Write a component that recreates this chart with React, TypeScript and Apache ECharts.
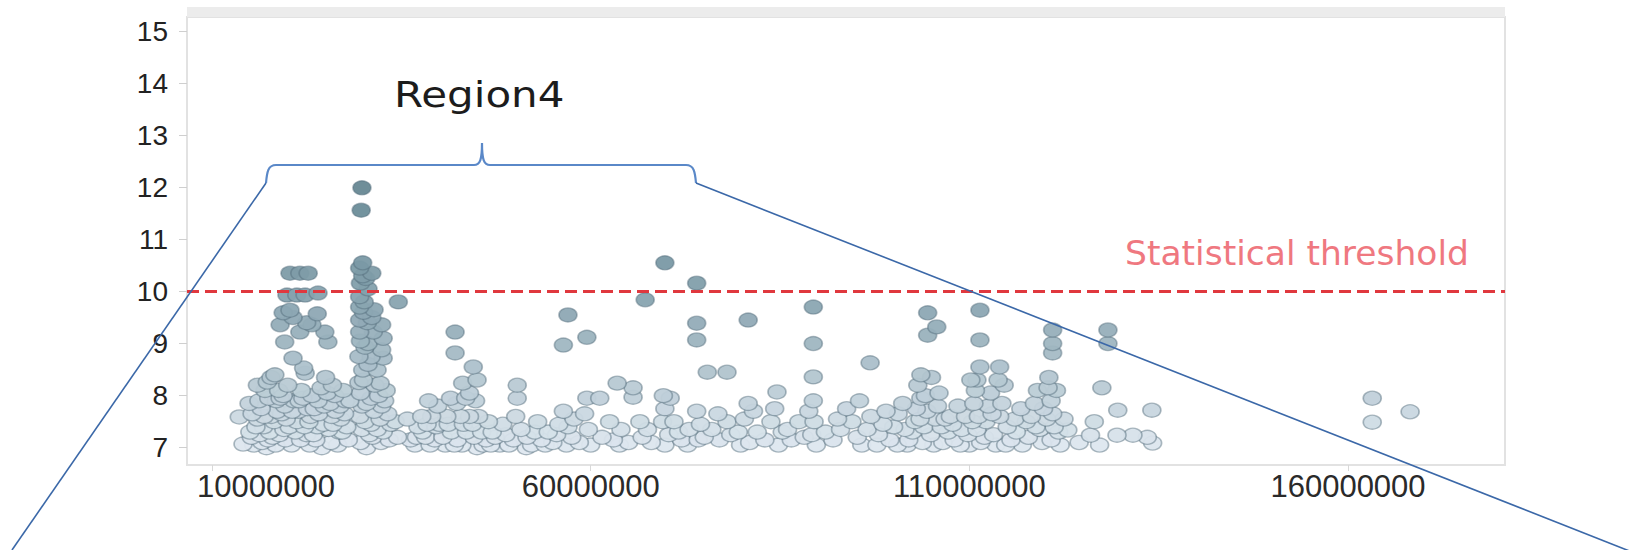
import React, { useEffect, useRef } from "react";
import * as echarts from "echarts";

// x in megabases, y = -log10(p)
const regionA: number[][] = [
  [13.6, 7.59], [14.1, 7.07],
  [20.3, 10.35], [21.6, 10.35], [22.7, 10.35],
  [19.9, 9.93], [21.2, 9.93], [22.3, 9.93], [24.0, 9.97],
  [20.3, 9.64], [19.4, 9.59], [20.7, 9.5], [23.9, 9.57], [19.0, 9.36], [22.5, 9.4], [23.2, 9.36],
  [21.6, 9.22], [24.9, 9.22], [25.3, 9.03], [19.6, 9.03], [20.7, 8.72], [22.1, 8.53], [22.3, 8.43],
  [17.3, 8.26], [17.0, 8.1], [18.3, 8.4], [17.5, 7.95], [16.2, 7.9], [16.5, 7.75], [16.0, 7.55],
  [16.8, 7.4], [16.3, 7.25], [16.6, 7.1], [17.2, 7.0], [18.0, 7.2], [18.2, 7.5], [18.6, 7.7],
  [18.5, 7.9], [19.4, 8.0], [19.6, 7.8], [19.8, 7.55], [19.5, 7.35], [19.7, 7.15], [20.5, 7.05],
  [21.0, 7.3], [21.2, 7.5], [21.4, 7.7], [20.8, 7.9], [22.0, 7.95], [22.6, 7.75], [22.8, 7.5],
  [22.5, 7.25], [22.9, 7.05], [23.7, 7.15], [23.9, 7.4], [24.1, 7.65], [24.0, 7.9], [24.4, 8.15],
  [25.0, 8.35], [25.2, 8.05], [25.6, 7.85], [25.8, 7.6], [25.4, 7.35], [25.7, 7.1], [26.6, 7.05],
  [26.8, 7.3], [27.0, 7.55], [26.9, 7.8], [26.2, 8.0], [27.3, 8.1], [27.6, 7.9], [27.8, 7.4],
  [28.0, 7.15], [15.0, 7.3], [15.3, 7.65], [14.9, 7.85], [17.8, 7.6], [18.9, 7.25], [20.0, 8.2],
  [21.8, 8.1], [23.2, 8.0], [23.0, 7.6], [21.7, 7.15], [24.7, 7.45], [26.3, 7.7], [15.5, 7.05],
  [17.6, 7.3], [19.0, 7.95], [24.5, 7.0],
  [16.0, 8.2], [17.8, 8.35], [18.8, 8.1], [16.9, 7.6], [17.4, 7.15], [18.4, 7.05], [19.2, 7.65],
  [20.2, 7.4], [20.6, 7.7], [21.5, 7.9], [22.2, 7.4], [23.4, 7.25], [23.5, 7.75], [24.8, 7.8],
  [25.9, 8.2], [26.0, 7.45], [27.2, 7.3], [27.5, 7.65], [28.2, 7.9], [15.8, 7.4], [15.2, 7.2],
];

const regionB: number[][] = [
  [29.8, 11.99], [29.7, 11.56], [29.9, 10.55], [31.1, 10.35], [29.5, 10.45], [29.6, 10.16],
  [30.3, 10.25], [29.5, 9.9], [30.1, 9.8], [29.5, 9.7], [30.0, 9.6], [29.5, 9.45], [31.1, 9.5],
  [32.4, 9.36], [32.6, 9.1], [31.3, 9.22], [29.5, 9.22], [32.4, 8.88], [32.6, 8.72], [31.0, 8.74],
  [30.2, 8.93], [29.9, 8.49], [31.8, 8.49], [32.2, 8.24], [29.6, 9.05], [30.6, 9.0], [34.6, 9.8],
  [30.0, 8.3], [29.6, 8.05], [30.4, 7.85], [29.5, 7.6], [29.8, 7.35], [29.6, 7.1], [30.4, 7.0],
  [31.2, 7.2], [31.0, 7.45], [31.4, 7.7], [31.0, 7.95], [32.0, 8.0], [32.4, 7.8], [32.2, 7.55],
  [32.6, 7.3], [32.3, 7.1], [33.4, 7.15], [33.6, 7.45], [33.2, 7.65], [34.2, 7.5], [34.5, 7.2],
  [31.5, 8.2], [30.6, 8.6],
  [29.4, 8.25], [29.8, 7.8], [30.2, 7.5], [30.8, 7.25], [31.8, 7.35], [32.8, 7.9], [33.0, 8.1],
  [29.4, 8.75], [30.5, 9.4], [31.4, 9.65], [29.9, 10.3], [30.6, 10.05],
];

const regionC: number[][] = [
  [42.1, 9.22], [42.1, 8.82], [44.5, 8.55], [45.0, 8.3], [43.1, 8.24], [41.5, 7.95], [42.3, 7.85],
  [43.5, 7.95], [44.8, 7.9], [45.2, 7.6], [44.0, 7.6], [42.8, 7.6], [41.0, 7.6], [40.0, 7.45],
  [39.0, 7.6], [38.4, 7.45], [37.7, 7.6], [37.2, 7.4], [37.0, 7.2], [36.2, 7.15], [38.2, 7.2],
  [39.4, 7.15], [40.5, 7.2], [41.6, 7.3], [42.4, 7.15], [43.6, 7.3], [44.6, 7.2], [45.6, 7.3],
  [46.2, 7.15], [47.4, 7.2], [48.0, 7.05], [48.8, 7.25], [49.8, 7.15], [50.3, 8.2], [50.3, 7.95],
  [50.1, 7.6], [50.8, 7.35], [51.6, 7.2], [52.6, 7.3], [53.5, 7.15], [54.4, 7.3], [55.0, 7.1],
  [55.8, 7.45], [56.4, 7.7], [57.0, 7.4], [57.5, 7.2], [57.8, 7.55], [58.5, 7.1], [57.0, 9.55],
  [56.4, 8.97], [59.5, 9.12], [59.5, 7.95], [59.2, 7.65], [59.7, 7.35], [60.0, 7.05], [46.5, 7.5],
  [48.4, 7.45], [35.8, 7.55], [39.8, 7.8], [40.8, 7.05], [43.0, 7.05], [45.0, 7.0], [53.0, 7.5],
  [51.5, 7.0], [55.5, 7.25], [38.6, 7.9], [44.0, 8.05], [47.0, 7.3],
  [36.8, 7.05], [37.8, 7.3], [38.8, 7.05], [39.6, 7.4], [41.2, 7.45], [42.0, 7.05], [43.2, 7.45],
  [44.4, 7.45], [45.8, 7.05], [46.8, 7.05], [49.2, 7.05], [52.2, 7.05], [54.0, 7.05], [56.8, 7.05],
];

const regionD: number[][] = [
  [63.5, 8.24], [65.6, 8.15], [65.6, 7.97], [62.5, 7.5], [61.5, 7.2], [63.0, 7.15], [64.0, 7.35],
  [65.0, 7.1], [66.5, 7.5], [67.5, 7.35], [68.0, 7.1], [69.5, 7.5], [69.8, 7.75], [69.6, 8.0],
  [70.5, 7.95], [70.3, 7.25], [69.8, 7.05], [71.0, 7.5], [72.0, 7.15], [73.0, 7.35], [74.0, 7.7],
  [74.5, 7.45], [74.2, 7.15], [75.0, 7.2], [76.0, 7.35], [77.0, 7.15], [78.0, 7.5], [78.5, 7.25],
  [79.5, 7.3], [80.3, 7.55], [81.0, 7.1], [82.0, 7.3], [83.0, 7.15], [83.8, 7.5], [84.6, 8.07],
  [84.3, 7.75], [85.3, 7.3], [86.5, 7.15], [87.5, 7.5], [88.2, 7.2], [88.8, 7.7], [89.4, 7.9],
  [89.5, 7.5], [89.2, 7.25], [89.8, 7.05],
  [69.8, 10.55], [67.2, 9.84], [74.0, 10.16], [74.0, 9.39], [74.0, 9.07], [80.8, 9.45], [75.4, 8.45],
  [78.0, 8.45], [89.4, 9.7], [89.4, 9.0], [89.4, 8.36], [61.2, 7.95], [66.8, 7.2], [71.6, 7.3],
  [76.8, 7.65], [80.8, 7.85], [81.5, 7.7], [86.0, 7.35], [63.8, 7.05], [72.8, 7.05], [79.8, 7.05],
  [84.8, 7.05],
];

const regionE: number[][] = [
  [96.9, 8.63], [104.5, 9.59], [105.7, 9.32], [104.5, 9.16], [111.4, 9.64], [111.4, 9.07],
  [111.4, 8.55], [114.0, 8.55], [121.0, 9.26], [121.0, 9.0], [121.0, 8.82],
  [91.0, 7.3], [92.0, 7.15], [93.0, 7.35], [93.8, 7.75], [94.5, 7.5], [95.2, 7.2], [95.8, 7.05],
  [96.5, 7.35], [97.0, 7.6], [98.0, 7.25], [98.6, 7.45], [99.5, 7.15], [100.0, 7.4], [100.6, 7.65],
  [101.2, 7.85], [101.5, 7.35], [102.0, 7.15], [102.8, 7.5], [103.0, 7.75], [103.2, 8.2], [103.6, 8.4],
  [104.2, 8.0], [104.4, 7.7], [104.0, 7.4], [103.8, 7.1], [104.9, 7.25], [105.5, 7.55], [105.8, 7.8],
  [106.0, 8.05], [106.3, 7.4], [106.5, 7.1], [107.2, 7.3], [107.5, 7.6], [108.0, 7.15], [109.0, 7.35],
  [109.5, 7.6], [110.0, 7.05], [110.6, 7.85], [110.8, 8.1], [111.0, 8.3], [111.2, 7.6], [111.0, 7.35],
  [111.5, 7.1], [112.2, 7.5], [112.5, 7.8], [112.8, 8.05], [113.2, 7.25], [113.5, 7.05], [114.0, 7.6],
  [114.3, 7.85], [114.6, 8.2], [115.0, 7.4], [115.5, 7.15], [116.2, 7.3], [117.0, 7.05], [118.2, 7.6],
  [118.6, 7.85], [119.0, 8.1], [119.3, 7.35], [119.6, 7.1], [120.5, 8.35], [120.4, 8.15], [120.8, 7.9],
  [121.0, 7.65], [121.2, 7.4], [120.8, 7.15], [121.8, 7.3], [122.0, 7.05], [122.5, 7.55], [117.5, 7.5],
  [116.8, 7.75], [108.5, 7.8], [99.0, 7.7], [95.5, 7.9], [92.6, 7.55], [113.8, 8.3], [105.0, 8.35],
  [101.8, 7.05], [97.8, 7.05],
  [100.5, 7.05], [102.5, 7.3], [103.5, 7.55], [105.3, 7.05], [106.8, 7.55], [107.8, 7.45],
  [108.8, 7.05], [109.8, 7.25], [110.4, 7.5], [112.0, 7.2], [113.0, 7.65], [114.8, 7.05],
  [116.0, 7.55], [117.8, 7.2], [118.8, 7.4], [119.8, 7.75], [120.2, 7.55], [121.5, 8.1],
  [103.6, 7.95], [110.2, 8.3],
];

const regionF: number[][] = [
  [128.3, 9.26], [128.3, 9.0], [127.5, 8.15], [129.6, 7.72], [134.1, 7.72], [134.2, 7.09],
  [131.6, 7.24], [129.5, 7.24], [126.0, 7.24], [123.0, 7.34], [124.5, 7.1], [126.5, 7.5],
  [127.2, 7.05], [133.5, 7.2], [163.2, 7.95], [163.2, 7.49], [168.2, 7.69],
];

const xTickValues = [10000000, 60000000, 110000000, 160000000];
const yTickValues = [7, 8, 9, 10, 11, 12, 13, 14, 15];
const thresholdValue = 10;
const thresholdLabel = "Statistical threshold";
const regionLabel = "Region4";

const bracePath =
  "M266 183 C267 172 268 165 276 165 L474 165 C480 165 482 160 482 143 C482 160 484 165 490 165 L686 165 C694 165 695 172 696 183";

let braceRegistered = false;
function registerBrace() {
  if (braceRegistered) return;
  try {
    echarts.graphic.registerShape("brace", echarts.graphic.extendPath(bracePath, {}) as any);
  } catch (e) {
    /* ignore */
  }
  braceRegistered = true;
}

export default function App() {
  const ref = useRef<HTMLDivElement>(null);

  useEffect(() => {
    if (!ref.current) return;
    registerBrace();
    const chart = echarts.init(ref.current, undefined, { renderer: "svg" });
    const all = [...regionA, ...regionB, ...regionC, ...regionD, ...regionE, ...regionF]
      .map((p) => [p[0] * 1e6, p[1]])
      .sort((a, b) => a[1] - b[1]);

    const labelFont = "'Liberation Sans', Arial, sans-serif";

    chart.setOption({
      animation: false,
      backgroundColor: "#ffffff",
      grid: {
        left: 187,
        right: 127,
        top: 17,
        bottom: 85,
        show: true,
        borderColor: "#e2e2e2",
        borderWidth: 2,
        containLabel: false,
      },
      xAxis: {
        type: "value",
        min: 6700000,
        max: 180730000,
        splitLine: { show: false },
        axisLine: { show: true, lineStyle: { color: "#e2e2e2", width: 2 } },
        axisTick: {
          show: true,
          customValues: xTickValues,
          length: 6,
          lineStyle: { color: "#d8d8d8", width: 1 },
        },
        axisLabel: {
          customValues: xTickValues,
          fontSize: 31,
          fontFamily: labelFont,
          color: "#2a2a2a",
          margin: 6,
          formatter: (v: number) => (v === xTickValues[0] ? `{s|${v}}` : String(v)),
          rich: {
            s: {
              fontSize: 31,
              fontFamily: labelFont,
              color: "#2a2a2a",
              padding: [0, 0, 0, 108],
            },
          },
        },
      },
      yAxis: {
        type: "value",
        min: 6.668,
        max: 15.27,
        splitLine: { show: false },
        axisLine: { show: true, lineStyle: { color: "#e2e2e2", width: 2 } },
        axisTick: {
          show: true,
          customValues: yTickValues,
          length: 8,
          lineStyle: { color: "#cfcfcf", width: 1 },
        },
        axisLabel: {
          customValues: yTickValues,
          fontSize: 28,
          fontFamily: labelFont,
          color: "#222222",
          margin: 19,
        },
      },
      visualMap: {
        show: false,
        type: "continuous",
        dimension: 1,
        min: 7,
        max: 12,
        inRange: {
          color: ["#dfe8f0", "#b7c9d3", "#8fa9b5", "#7696a2", "#678894"],
        },
      },
      series: [
        {
          type: "scatter",
          data: all,
          symbol: "circle",
          symbolSize: [18, 14],
          itemStyle: {
            borderColor: "rgba(85,110,125,0.5)",
            borderWidth: 1.5,
            opacity: 0.95,
          },
          markLine: {
            silent: true,
            symbol: ["none", "none"],
            label: { show: false },
            lineStyle: { color: "#e0383e", width: 3, type: [12, 6] },
            data: [{ yAxis: thresholdValue }],
          },
          z: 2,
        },
      ],
      graphic: [
        {
          type: "rect",
          shape: { x: 187, y: 7, width: 1318, height: 10 },
          style: { fill: "#ececec" },
          z: 1,
        },
        {
          type: "text",
          x: 1125,
          y: 253,
          style: {
            text: thresholdLabel,
            fontSize: 34.5,
            fontFamily: "'DejaVu Sans', Verdana, sans-serif",
            fill: "#ef7880",
            align: "left",
            verticalAlign: "middle",
          },
          z: 50,
        },
        {
          type: "text",
          x: 394,
          y: 95,
          scaleX: 1.2,
          style: {
            text: regionLabel,
            fontSize: 35,
            fontFamily: "'DejaVu Sans', Verdana, sans-serif",
            fill: "#1c1c1c",
            align: "left",
            verticalAlign: "middle",
          },
          z: 50,
        },
        {
          type: "brace",
          x: 0,
          y: 0,
          scaleX: 1,
          scaleY: 1,
          style: { stroke: "#5a88c8", lineWidth: 2.2, fill: "none" },
          z: 60,
        },
        {
          type: "line",
          shape: { x1: 266, y1: 183, x2: 12, y2: 550 },
          style: { stroke: "#3b68a8", lineWidth: 1.6 },
          z: 60,
        },
        {
          type: "line",
          shape: { x1: 696, y1: 183, x2: 1632, y2: 552 },
          style: { stroke: "#3b68a8", lineWidth: 1.6 },
          z: 60,
        },
      ],
    });

    return () => {
      chart.dispose();
    };
  }, []);

  return (
    <div
      ref={ref}
      style={{ position: "absolute", left: 0, top: 0, width: 1632, height: 550 }}
    />
  );
}
